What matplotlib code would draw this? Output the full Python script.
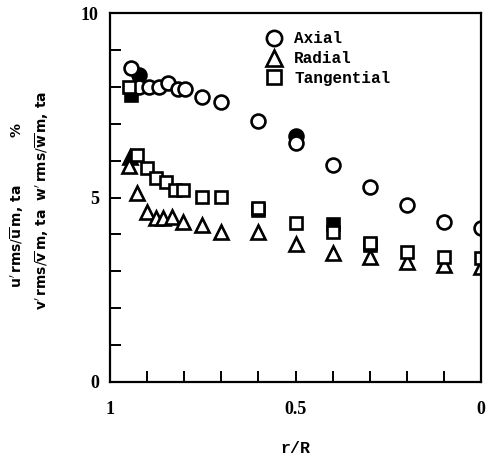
import matplotlib
matplotlib.use("Agg")
import matplotlib.pyplot as plt
from matplotlib.lines import Line2D

# Axial component (open circles)
axial_r = [0.944, 0.922, 0.896, 0.869, 0.845, 0.818, 0.797, 0.751, 0.70,
           0.6, 0.5, 0.4, 0.3, 0.2, 0.1, 0.0]
axial_v = [8.51, 8.0, 8.0, 8.0, 8.1, 7.93, 7.93, 7.72, 7.59,
           7.07, 6.48, 5.88, 5.28, 4.80, 4.34, 4.17]

# Radial component (open triangles)
radial_r = [0.949, 0.928, 0.901, 0.877, 0.856, 0.834, 0.802, 0.751, 0.70,
            0.6, 0.5, 0.4, 0.3, 0.2, 0.1, 0.0]
radial_v = [5.85, 5.12, 4.61, 4.44, 4.44, 4.47, 4.34, 4.25, 4.07,
            4.07, 3.74, 3.49, 3.39, 3.25, 3.17, 3.12]

# Tangential component (open squares)
tang_r = [0.949, 0.928, 0.901, 0.877, 0.850, 0.824, 0.802, 0.751, 0.70,
          0.6, 0.5, 0.4, 0.3, 0.2, 0.1, 0.0]
tang_v = [8.0, 6.15, 5.8, 5.54, 5.42, 5.2, 5.2, 5.02, 5.02,
          4.72, 4.31, 4.07, 3.77, 3.52, 3.39, 3.36]

# Repeat-run points (solid symbols, partly hidden behind the open ones)
axial2_r = [0.922, 0.5]
axial2_v = [8.32, 6.68]
radial2_r = [0.946]
radial2_v = [6.1]
tang2_r = [0.944, 0.6, 0.4, 0.3]
tang2_v = [7.78, 4.66, 4.27, 3.72]

legend_labels = ["Axial", "Radial", "Tangential"]
x_ticks = [1.0, 0.5, 0.0]
x_tick_labels = ["1", "0.5", "0"]
y_ticks = [0, 5, 10]
y_tick_labels = ["0", "5", "10"]

fig = plt.figure(figsize=(4.89, 4.63), dpi=100)
ax = fig.add_axes([110 / 489, 1 - 382 / 463, 371 / 489, 369 / 463])

mew = 1.9
common = dict(linestyle="none", color="black", markeredgewidth=mew)

# solid symbols first so the open ones sit on top
ax.plot(axial2_r, axial2_v, marker="o", markersize=10, markerfacecolor="black", **common)
ax.plot(radial2_r, radial2_v, marker="^", markersize=10, markerfacecolor="black", **common)
ax.plot(tang2_r, tang2_v, marker="s", markersize=9, markerfacecolor="black", **common)

ax.plot(axial_r, axial_v, marker="o", markersize=10, markerfacecolor="white", **common)
ax.plot(radial_r, radial_v, marker="^", markersize=10, markerfacecolor="white", **common)
ax.plot(tang_r, tang_v, marker="s", markersize=9, markerfacecolor="white", **common)

ax.set_xlim(1.0, 0.0)
ax.set_ylim(0, 10)

for side in ["left", "bottom", "right", "top"]:
    ax.spines[side].set_linewidth(1.6)

ax.set_xticks(x_ticks)
ax.set_xticks([0.9, 0.8, 0.7, 0.6, 0.4, 0.3, 0.2, 0.1], minor=True)
ax.set_xticklabels(x_tick_labels)
ax.set_yticks(y_ticks)
ax.set_yticks([1, 2, 3, 4, 6, 7, 8, 9], minor=True)
ax.set_yticklabels(y_tick_labels)

for lab in ax.get_xticklabels() + ax.get_yticklabels():
    lab.set_fontfamily("Liberation Serif")
    lab.set_fontweight("bold")
    lab.set_fontsize(13)

ax.tick_params(axis="both", which="both", direction="in", width=1.4,
               length=8, top=False, right=False)
ax.tick_params(axis="x", which="major", pad=14)
ax.tick_params(axis="y", which="major", pad=8)

ax.set_xlabel("r/R", family="Liberation Mono", weight="bold", fontsize=12, labelpad=16)

# legend
handles = [
    Line2D([], [], marker="o", markersize=11, markerfacecolor="white", **common),
    Line2D([], [], marker="^", markersize=11, markerfacecolor="white", **common),
    Line2D([], [], marker="s", markersize=10, markerfacecolor="white", **common),
]
leg = ax.legend(handles, legend_labels, loc="upper left",
                bbox_to_anchor=(0.385, 0.985), frameon=False,
                handlelength=1.0, handletextpad=0.8, labelspacing=0.3,
                borderaxespad=0.4,
                prop=dict(family="Liberation Mono", weight="bold", size=11.5))

# y-axis labels: two rotated lines
plt.rcParams["mathtext.fontset"] = "dejavusans"
fig.text(17 / 489, 1 - 205 / 463,
         r"$\mathbf{u}'\,\mathbf{rms}/\overline{\mathbf{u}}\,\mathbf{m,\,ta}$          %",
         rotation=90, ha="center", va="center", fontsize=10, weight="bold")
fig.text(42 / 489, 1 - 200 / 463,
         r"$\mathbf{v}'\,\mathbf{rms}/\overline{\mathbf{v}}\,\mathbf{m,\,ta}\ \ \mathbf{w}'\,\mathbf{rms}/\overline{\mathbf{w}}\,\mathbf{m,\,ta}$",
         rotation=90, ha="center", va="center", fontsize=10, weight="bold")

fig.savefig("out.png", dpi=100)
